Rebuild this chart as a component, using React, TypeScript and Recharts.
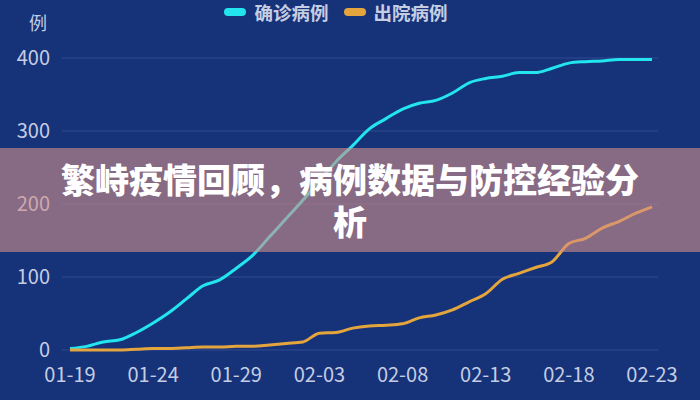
import { LineChart, Line, XAxis, YAxis, CartesianGrid, Legend } from 'recharts';

const dates = [
  '01-19', '01-20', '01-21', '01-22', '01-23', '01-24', '01-25', '01-26', '01-27', '01-28',
  '01-29', '01-30', '01-31', '02-01', '02-02', '02-03', '02-04', '02-05', '02-06', '02-07',
  '02-08', '02-09', '02-10', '02-11', '02-12', '02-13', '02-14', '02-15', '02-16', '02-17',
  '02-18', '02-19', '02-20', '02-21', '02-22', '02-23',
];

const confirmed = [
  2, 5, 11, 14, 24, 37, 52, 70, 88, 96,
  112, 130, 155, 180, 205, 232, 258, 280, 303, 317,
  330, 338, 342, 352, 366, 372, 375, 380, 380, 386,
  393, 395, 396, 398, 398, 398,
];

const discharged = [
  0, 0, 0, 0, 1, 2, 2, 3, 4, 4,
  5, 5, 7, 9, 11, 23, 24, 30, 33, 34,
  36, 44, 48, 55, 66, 77, 97, 105, 113, 121,
  146, 153, 167, 176, 187, 196,
];

const yTicks = [0, 100, 200, 300, 400];

const data = dates.map((d, i) => ({ date: d, confirmed: confirmed[i], discharged: discharged[i] }));

const font = '"Noto Sans CJK SC", "Noto Sans", sans-serif';
const textColor = '#c5cde3';

function LegendContent() {
  const items = [
    { name: '确诊病例', color: '#22e5ee' },
    { name: '出院病例', color: '#e4a53c' },
  ];
  return (
    <div style={{ display: 'flex', justifyContent: 'center', gap: 15, height: 22, alignItems: 'center', transform: 'translateX(-14px)' }}>
      {items.map((it) => (
        <div key={it.name} style={{ display: 'flex', alignItems: 'center', gap: 8 }}>
          <span style={{ width: 22, height: 8, borderRadius: 4, background: it.color, display: 'inline-block' }} />
          <span style={{ color: textColor, fontSize: 18.5, fontWeight: 700, fontFamily: font }}>{it.name}</span>
        </div>
      ))}
    </div>
  );
}

export default function App() {
  return (
    <div style={{ position: 'relative', width: 700, height: 400, background: '#16337a', overflow: 'hidden' }}>
      <style>{`body{margin:0}`}</style>
      <LineChart width={700} height={400} data={data} margin={{ top: 36, right: 42, bottom: 20, left: 0 }}>
        <CartesianGrid vertical={false} stroke="#2f4b8e" strokeWidth={1} />
        <Legend verticalAlign="top" content={<LegendContent />} wrapperStyle={{ top: 1, left: 0, width: 700 }} />
        <XAxis
          dataKey="date"
          interval={4}
          padding={{ left: 8, right: 6 }}
          axisLine={false}
          tickLine={false}
          tickSize={0}
          tickMargin={18}
          tick={{ fill: textColor, fontSize: 20, fontFamily: font }}
        />
        <YAxis
          domain={[0, 400]}
          ticks={yTicks}
          width={62}
          axisLine={false}
          tickLine={false}
          tickSize={0}
          tickMargin={12}
          tick={{ fill: textColor, fontSize: 20, fontFamily: font }}
          label={{ value: '例', position: 'top', offset: 28, dx: 7, fill: textColor, fontSize: 18, fontFamily: font }}
        />
        <Line type="monotone" dataKey="confirmed" name="确诊病例" stroke="#22e5ee" strokeWidth={3} dot={false} isAnimationActive={false} />
        <Line type="monotone" dataKey="discharged" name="出院病例" stroke="#e4a53c" strokeWidth={3} dot={false} isAnimationActive={false} />
      </LineChart>
      <div
        style={{
          position: 'absolute',
          left: 0,
          top: 148,
          width: 700,
          height: 104,
          background: 'rgba(211,144,136,0.6)',
          display: 'flex',
          alignItems: 'center',
          justifyContent: 'center',
        }}
      >
        <div
          style={{
            width: 590,
            textAlign: 'center',
            color: '#ffffff',
            fontSize: 34,
            fontWeight: 900,
            lineHeight: '42px',
            fontFamily: font,
          }}
        >
          繁峙疫情回顾，病例数据与防控经验分析
        </div>
      </div>
    </div>
  );
}
